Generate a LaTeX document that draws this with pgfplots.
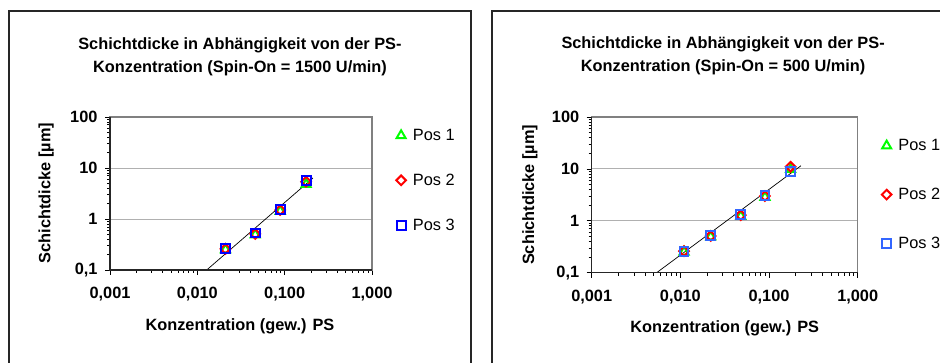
\documentclass[border=0pt]{standalone}
\usepackage{fontspec}
\setmainfont{Liberation Sans}
\usepackage{pgfplots}
\pgfplotsset{compat=1.18}
\definecolor{xlgreen}{RGB}{0,255,0}
\definecolor{xlred}{RGB}{255,0,0}
\definecolor{xlblue}{RGB}{0,0,255}
\definecolor{xlblueB}{RGB}{51,102,255}
\definecolor{boxgray}{RGB}{128,128,128}
\definecolor{gridgray}{RGB}{176,176,176}
\pgfplotsset{
  xlstyle/.style={
    scale only axis,
    xmin=0.001, xmax=1, ymin=0.1, ymax=100,
    xtick={0.001,0.01,0.1,1},
    xticklabels={0{,}001,0{,}010,0{,}100,1{,}000},
    ytick={0.1,1,10,100},
    yticklabels={0{,}1,1,10,100},
    tick pos=left,
    tick align=outside,
    major tick length=5bp,
    minor tick length=3bp,
    tick style={black, line width=0.8bp},
    ymajorgrids,
    major grid style={gridgray, line width=0.9bp},
    axis line style={boxgray, line width=1.3bp},
    ticklabel style={font=\fontsize{16.4}{19}\selectfont\bfseries},
    xticklabel style={yshift=-9bp},
    yticklabel style={xshift=-4bp},
    label style={font=\fontsize{16.4}{19}\selectfont\bfseries},
    title style={font=\fontsize{16.4}{20}\selectfont\bfseries, align=center, anchor=center},
    xlabel={Konzentration (gew.) PS},
    ylabel={Schichtdicke [µm]},
    legend style={draw=none, fill=none, font=\fontsize{16.4}{19}\selectfont,
      anchor=north west, row sep=28bp, column sep=5bp, inner sep=0pt},
    legend cell align=left,
    after end axis/.code={
      \draw[black!85, line width=1.2bp] (rel axis cs:0,1) -- (rel axis cs:0,0) -- (rel axis cs:1,0);
    },
  },
  tri/.style={only marks, mark=triangle, mark size=5.2bp, mark options={xlgreen, line width=2bp}},
  dia/.style={only marks, mark=square, mark size=3.4bp, mark options={xlred, line width=2bp, rotate=45}},
  sqr/.style={only marks, mark=square, mark size=4.4bp, mark options={#1, line width=2bp}},
}
\begin{document}
\begin{tikzpicture}
\path[use as bounding box] (0,0) rectangle (940bp,363bp);
\draw[black!85, line width=1.5bp] (9bp,-20bp) -- (9bp,352bp) -- (471bp,352bp) -- (471bp,-20bp);
\draw[black!85, line width=1.5bp] (492bp,-20bp) -- (492bp,352bp) -- (960bp,352bp);

\begin{loglogaxis}[xlstyle,
  at={(110bp,93bp)}, anchor=south west,
  width=262bp, height=153bp,
  title={Schichtdicke in Abhängigkeit von der PS-\\[3bp]Konzentration (Spin-On = 1500 U/min)},
  title style={at={(axis description cs:0.496,1.355)}},
  xlabel style={at={(axis description cs:0.496,-0.366)}, anchor=center},
  ylabel style={at={(axis description cs:-0.244,0.503)}, anchor=center},
  legend style={at={(axis description cs:1.092,0.935)}},
]
\addplot[black, line width=0.7bp, forget plot] coordinates {(0.0128,0.1) (0.211,6.37)};
\addplot[tri] coordinates {(0.021,0.25) (0.046,0.49) (0.089,1.42) (0.176,4.8)};
\addlegendentry{Pos 1}
\addplot[dia] coordinates {(0.021,0.26) (0.046,0.51) (0.089,1.5) (0.176,5.4)};
\addlegendentry{Pos 2}
\addplot[sqr=xlblue] coordinates {(0.021,0.26) (0.046,0.53) (0.089,1.55) (0.176,5.6)};
\addlegendentry{Pos 3}
\end{loglogaxis}

\begin{loglogaxis}[xlstyle,
  at={(591.7bp,90.3bp)}, anchor=south west,
  width=266bp, height=155.7bp,
  title={Schichtdicke in Abhängigkeit von der PS-\\[3bp]Konzentration (Spin-On = 500 U/min)},
  title style={at={(axis description cs:0.494,1.352)}},
  xlabel style={at={(axis description cs:0.5,-0.36)}, anchor=center},
  ylabel style={at={(axis description cs:-0.232,0.5)}, anchor=center},
  legend style={at={(axis description cs:1.09,0.87)}, row sep=32bp},
]
\addplot[black, line width=0.7bp, forget plot] coordinates {(0.0054,0.1) (0.229,11.5)};
\addplot[tri] coordinates {(0.011,0.25) (0.022,0.49) (0.048,1.22) (0.090,2.85) (0.175,9.8)};
\addlegendentry{Pos 1}
\addplot[dia] coordinates {(0.011,0.26) (0.022,0.51) (0.048,1.28) (0.090,3.0) (0.175,11.0)};
\addlegendentry{Pos 2}
\addplot[sqr=xlblueB] coordinates {(0.011,0.26) (0.022,0.52) (0.048,1.3) (0.090,3.1) (0.175,8.8)};
\addlegendentry{Pos 3}
\end{loglogaxis}
\end{tikzpicture}
\end{document}
